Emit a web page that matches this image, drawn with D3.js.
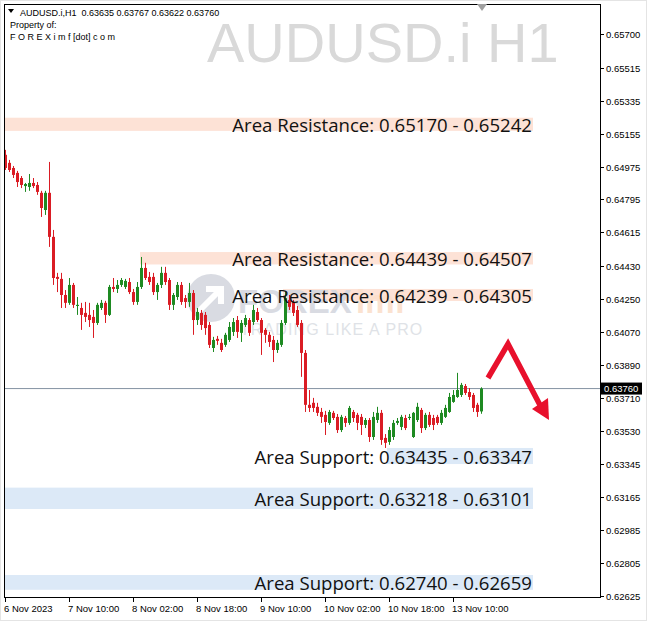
<!DOCTYPE html>
<html><head><meta charset="utf-8">
<script src="https://cdn.jsdelivr.net/npm/d3@7"></script>
<style>body{margin:0;background:#fff}svg{display:block}</style>
</head><body><svg id="c" width="648" height="622"></svg>
<script>
// ---- data ----
const opens = [0.65039,0.64995,0.64967,0.64940,0.64912,0.64868,0.64863,0.64885,0.64874,0.64831,
0.64737,0.64831,0.64590,0.64371,0.64360,0.64272,0.64229,0.64327,0.64212,0.64201,
0.64174,0.64163,0.64152,0.64119,0.64201,0.64229,0.64163,0.64316,0.64305,0.64327,
0.64316,0.64343,0.64288,0.64234,0.64316,0.64420,0.64371,0.64371,0.64288,0.64327,
0.64393,0.64354,0.64218,0.64261,0.64327,0.64255,0.64234,0.64283,0.64135,0.64174,
0.64163,0.64108,0.63982,0.64032,0.64010,0.63999,0.64026,0.64070,0.64135,0.64065,
0.64108,0.64135,0.64124,0.64179,0.64135,0.64081,0.64054,0.64026,0.63971,0.63999,
0.64119,0.64245,0.64234,0.64190,0.64119,0.63955,0.63671,0.63682,0.63660,0.63632,
0.63616,0.63572,0.63627,0.63605,0.63533,0.63599,0.63572,0.63632,0.63616,0.63605,
0.63561,0.63588,0.63495,0.63588,0.63627,0.63490,0.63468,0.63495,0.63572,0.63550,
0.63599,0.63599,0.63495,0.63588,0.63643,0.63544,0.63616,0.63599,0.63605,0.63572,
0.63605,0.63632,0.63687,0.63714,0.63725,0.63774,0.63741,0.63725,0.63671,0.63635];
const highs = [0.65066,0.65011,0.64978,0.64951,0.64923,0.64885,0.64934,0.64912,0.64890,0.64842,
0.64842,0.65000,0.64628,0.64393,0.64393,0.64299,0.64365,0.64338,0.64261,0.64229,
0.64234,0.64229,0.64190,0.64229,0.64245,0.64240,0.64327,0.64365,0.64354,0.64365,
0.64360,0.64365,0.64305,0.64343,0.64480,0.64448,0.64398,0.64393,0.64338,0.64426,
0.64426,0.64365,0.64283,0.64343,0.64343,0.64272,0.64338,0.64299,0.64201,0.64190,
0.64179,0.64124,0.64043,0.64048,0.64032,0.64065,0.64124,0.64146,0.64157,0.64135,
0.64163,0.64146,0.64218,0.64201,0.64146,0.64091,0.64070,0.64048,0.64026,0.64135,
0.64288,0.64272,0.64245,0.64212,0.64135,0.63971,0.63752,0.63709,0.63682,0.63654,
0.63638,0.63643,0.63638,0.63621,0.63616,0.63610,0.63665,0.63643,0.63627,0.63621,
0.63599,0.63599,0.63632,0.63660,0.63643,0.63511,0.63550,0.63588,0.63599,0.63616,
0.63616,0.63621,0.63632,0.63682,0.63654,0.63627,0.63632,0.63616,0.63616,0.63643,
0.63671,0.63736,0.63752,0.63846,0.63791,0.63785,0.63763,0.63736,0.63682,0.63767];
const lows = [0.64956,0.64945,0.64912,0.64863,0.64857,0.64836,0.64842,0.64857,0.64820,0.64699,
0.64710,0.64535,0.64327,0.64288,0.64201,0.64201,0.64218,0.64201,0.64163,0.64081,
0.64124,0.64097,0.64037,0.64108,0.64190,0.64119,0.64157,0.64288,0.64283,0.64316,
0.64305,0.64277,0.64218,0.64218,0.64305,0.64354,0.64327,0.64272,0.64245,0.64310,
0.64327,0.64190,0.64190,0.64245,0.64218,0.64201,0.64207,0.64054,0.64108,0.64081,
0.64054,0.63982,0.63960,0.63999,0.63960,0.63988,0.64015,0.64048,0.64037,0.64015,
0.64097,0.64048,0.64108,0.64124,0.63944,0.64010,0.63988,0.63905,0.63955,0.63988,
0.64108,0.64190,0.64157,0.64097,0.63824,0.63632,0.63632,0.63632,0.63610,0.63572,
0.63506,0.63561,0.63588,0.63517,0.63522,0.63550,0.63561,0.63577,0.63533,0.63506,
0.63544,0.63468,0.63479,0.63572,0.63452,0.63435,0.63452,0.63479,0.63561,0.63533,
0.63533,0.63588,0.63490,0.63577,0.63517,0.63533,0.63550,0.63533,0.63561,0.63561,
0.63599,0.63627,0.63682,0.63709,0.63714,0.63725,0.63698,0.63632,0.63605,0.63622];
const closes = [0.64967,0.64956,0.64929,0.64890,0.64874,0.64879,0.64885,0.64868,0.64836,0.64748,
0.64831,0.64590,0.64365,0.64360,0.64272,0.64229,0.64327,0.64218,0.64218,0.64163,
0.64152,0.64135,0.64119,0.64218,0.64229,0.64163,0.64316,0.64305,0.64327,0.64354,
0.64349,0.64288,0.64234,0.64316,0.64420,0.64365,0.64343,0.64288,0.64327,0.64393,
0.64343,0.64218,0.64272,0.64327,0.64234,0.64234,0.64283,0.64135,0.64179,0.64108,
0.64091,0.63999,0.64026,0.64021,0.63971,0.64054,0.64097,0.64124,0.64070,0.64119,
0.64146,0.64065,0.64190,0.64135,0.64065,0.64054,0.64015,0.63971,0.64010,0.64119,
0.64255,0.64207,0.64174,0.64108,0.63955,0.63671,0.63654,0.63654,0.63627,0.63605,
0.63577,0.63632,0.63599,0.63533,0.63605,0.63572,0.63654,0.63599,0.63572,0.63561,
0.63588,0.63495,0.63605,0.63627,0.63479,0.63463,0.63533,0.63572,0.63583,0.63605,
0.63544,0.63605,0.63627,0.63660,0.63544,0.63616,0.63561,0.63561,0.63572,0.63627,
0.63654,0.63714,0.63725,0.63752,0.63780,0.63736,0.63714,0.63654,0.63632,0.63760];

const yTickValues = [0.65700,0.65515,0.65335,0.65155,0.64975,0.64795,0.64615,0.64430,0.64250,
  0.64070,0.63890,0.63710,0.63530,0.63345,0.63165,0.62985,0.62805,0.62625];
const xTickIndex = [0,16,32,48,64,80,96,112];
const xTickLabels = ["6 Nov 2023","7 Nov 10:00","8 Nov 02:00","8 Nov 18:00","9 Nov 10:00",
  "10 Nov 02:00","10 Nov 18:00","13 Nov 10:00"];

const zoneLow   = [0.65170,0.64439,0.64239,0.63347,0.63101,0.62659];
const zoneHigh  = [0.65242,0.64507,0.64305,0.63435,0.63218,0.62740];
const zoneStart = [-0.3,33.75,69.5,95.5,-0.3,-0.3];
const zoneEnd   = [132,132,132,132,132,132];
const zoneType  = ["res","res","res","sup","sup","sup"];
const zoneLabels = ["Area Resistance: 0.65170 - 0.65242","Area Resistance: 0.64439 - 0.64507",
  "Area Resistance: 0.64239 - 0.64305","Area Support: 0.63435 - 0.63347",
  "Area Support: 0.63218 - 0.63101","Area Support: 0.62740 - 0.62659"];

const symbol = "AUDUSD.i,H1";
const lastPrice = 0.63760;

// ---- chart ----
const svg = d3.select("#c");
const L = 4, R = 600, T = 4, B = 597;
const x = d3.scaleLinear().domain([0, 119]).range([5, 481]);
const y = d3.scaleLinear().domain([0.62625, 0.65700]).range([596, 34]);

// outer frame
svg.append("rect").attr("x",0.5).attr("y",0.5).attr("width",646).attr("height",620)
  .attr("fill","#fff").attr("stroke","#e4e4e4");

// zones
const zg = svg.append("g");
zoneLow.forEach((lo,i)=>{
  const x0 = Math.max(L, x(zoneStart[i])), x1 = x(zoneEnd[i]);
  zg.append("rect").attr("x",x0).attr("width",x1-x0)
    .attr("y",y(zoneHigh[i])).attr("height",y(zoneLow[i])-y(zoneHigh[i]))
    .attr("fill", zoneType[i]==="res" ? "#fde2d6" : "#dce9f7");
});

// watermark logo
const wm = svg.append("g").attr("opacity",0.9);
wm.append("circle").attr("cx",211).attr("cy",298).attr("r",24).attr("fill","#d5d8df");
wm.append("path").attr("d","M198,312 L218,292 M206,289 L221,289 L221,304")
  .attr("stroke","#fff").attr("stroke-width",6).attr("fill","none");
wm.append("text").attr("x",238).attr("y",313).attr("font-family","Liberation Sans, Arial")
  .attr("font-weight","bold").attr("font-size",33).attr("fill","#d5d8df").text("FOREX");
wm.append("text").attr("x",356).attr("y",313).attr("font-family","Liberation Sans, Arial")
  .attr("font-weight","bold").attr("font-size",33).attr("fill","#fbdfcc").text("imf");
wm.append("text").attr("x",240).attr("y",335).attr("font-family","Liberation Sans, Arial")
  .attr("font-size",16).attr("letter-spacing",1.1).attr("fill","#dcdfe5").text("TRADING LIKE A PRO");

// big watermark symbol
svg.append("text").attr("x",207).attr("y",62).attr("font-family","Liberation Sans, Arial")
  .attr("font-size",56).attr("fill","#d9d9d9").text("AUDUSD.i H1");

// current price line
svg.append("line").attr("x1",L).attr("x2",R).attr("y1",y(lastPrice)).attr("y2",y(lastPrice))
  .attr("stroke","#8593a3").attr("stroke-width",1);

// candles
const cg = svg.append("g");
const idx = d3.range(opens.length);
const up = i => closes[i] >= opens[i];
cg.selectAll("line.w").data(idx).join("line")
  .attr("x1",i=>Math.round(x(i))+0.5).attr("x2",i=>Math.round(x(i))+0.5)
  .attr("y1",i=>y(highs[i])).attr("y2",i=>y(lows[i]))
  .attr("stroke",i=>up(i)?"#1e8a22":"#da1c24").attr("stroke-width",1);
cg.selectAll("rect.b").data(idx).join("rect")
  .attr("x",i=>Math.round(x(i))-1).attr("width",3)
  .attr("y",i=>y(Math.max(opens[i],closes[i])))
  .attr("height",i=>Math.max(1, Math.abs(y(opens[i])-y(closes[i]))))
  .attr("fill",i=>up(i)?"#1e8a22":"#da1c24");

// zone labels
zoneLabels.forEach((t,i)=>{
  svg.append("text").attr("x",x(zoneEnd[i])-1)
    .attr("y",(y(zoneHigh[i])+y(zoneLow[i]))/2+8)
    .attr("text-anchor","end").attr("font-family","Open Sans, Noto Sans, sans-serif")
    .attr("font-size",18.6).attr("fill","#111").text(t);
});

// red arrow
const ar = svg.append("g");
ar.append("path").attr("d","M488,378 L508,344 L541,407")
  .attr("stroke","#e8102c").attr("stroke-width",5.5).attr("fill","none").attr("stroke-linejoin","miter");
ar.append("path").attr("d","M532,409 L549,420 L548,398 Z").attr("fill","#e8102c");

// border
svg.append("rect").attr("x",L+0.5).attr("y",T+0.5).attr("width",R-L).attr("height",B-T)
  .attr("fill","none").attr("stroke","#000");

// shift marker
svg.append("path").attr("d","M477,4 L487,4 L482,11 Z").attr("fill","#a0a0a0");

// y axis
const ya = svg.append("g");
yTickValues.forEach(v=>{
  const yy = Math.round(y(v))+0.5;
  ya.append("line").attr("x1",R).attr("x2",R+4).attr("y1",yy).attr("y2",yy).attr("stroke","#000");
  ya.append("text").attr("x",606).attr("y",yy+3.5).attr("font-family","Liberation Sans, Arial")
    .attr("font-size",9.5).attr("fill","#000").text(d3.format(".5f")(v));
});
// last price label
const ly = y(lastPrice);
svg.append("rect").attr("x",601).attr("y",ly-6).attr("width",41).attr("height",12).attr("fill","#000");
svg.append("text").attr("x",604).attr("y",ly+3.5).attr("font-family","Liberation Sans, Arial")
  .attr("font-size",9.5).attr("fill","#fff").text(d3.format(".5f")(lastPrice));

// x axis
xTickIndex.forEach((k,j)=>{
  const xx = Math.round(x(k))+0.5;
  svg.append("line").attr("x1",xx).attr("x2",xx).attr("y1",B).attr("y2",B+5).attr("stroke","#000");
  svg.append("text").attr("x",xx-1.5).attr("y",612).attr("font-family","Liberation Sans, Arial")
    .attr("font-size",9.5).attr("fill","#000").text(xTickLabels[j]);
});

// header
const hf = "Liberation Sans, Arial";
svg.append("path").attr("d","M8,9 L14,9 L11,13 Z").attr("fill","#000");
svg.append("text").attr("x",20).attr("y",16).attr("font-family",hf).attr("font-size",9)
  .attr("fill","#000").attr("xml:space","preserve")
  .text(symbol+"  "+[opens[119],highs[119],lows[119],closes[119]].map(d3.format(".5f")).join(" "));
svg.append("text").attr("x",10).attr("y",28).attr("font-family",hf).attr("font-size",9)
  .attr("fill","#000").text("Property of:");
svg.append("text").attr("x",10).attr("y",40).attr("font-family",hf).attr("font-size",9)
  .attr("fill","#000").text("F O R E X i m f [dot] c o m");
</script></body></html>
